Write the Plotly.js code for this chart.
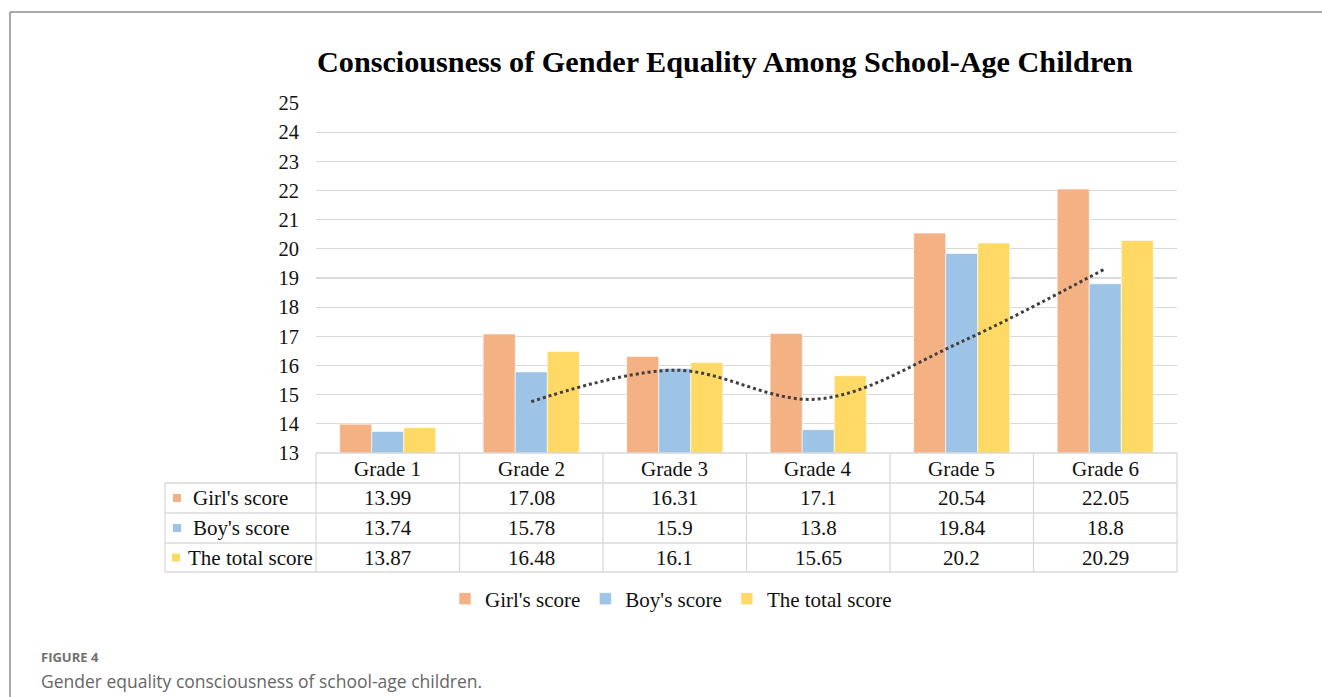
<!DOCTYPE html>
<html>
<head>
<meta charset="utf-8">
<script src="https://cdn.plot.ly/plotly-3.0.1.min.js"></script>
<style>html,body{margin:0;padding:0;background:#fff;}#chart{width:1322px;height:697px;}</style>
</head>
<body>
<div id="chart"></div>
<script>
const grades = ["Grade 1", "Grade 2", "Grade 3", "Grade 4", "Grade 5", "Grade 6"];
const girlScore = [13.99, 17.08, 16.31, 17.1, 20.54, 22.05];
const boyScore = [13.74, 15.78, 15.9, 13.8, 19.84, 18.8];
const totalScore = [13.87, 16.48, 16.1, 15.65, 20.2, 20.29];
const trendGrades = ["Grade 2", "Grade 3", "Grade 4", "Grade 5", "Grade 6"];
const trendValues = [14.76, 15.84, 14.85, 16.82, 19.32];
const seriesNames = ["Girl's score", "Boy's score", "The total score"];
const yTicks = [13, 14, 15, 16, 17, 18, 19, 20, 21, 22, 23, 24, 25];

const colors = ["#F4B183", "#9DC3E6", "#FFD966"];
const serif = "'Liberation Serif', 'Times New Roman', serif";
const fs = 21;

// plot area pixels
const L = 316, R = 1177, T = 103, B = 453;
const px = x => (x - L) / (R - L);
const py = y => (B - y) / (B - T);

const seriesValues = [girlScore, boyScore, totalScore];
const traces = seriesValues.map((vals, i) => ({
  type: "bar", x: grades, y: vals, name: seriesNames[i],
  marker: {color: colors[i], line: {color: "#ffffff", width: 0.6}},
  hoverinfo: "skip"
}));
traces.push({
  type: "scatter", mode: "lines", x: trendGrades, y: trendValues,
  line: {color: "#404040", width: 3, dash: "dot", shape: "spline", smoothing: 1},
  showlegend: false, hoverinfo: "skip"
});

const gridC = "#d9d9d9";
const shapes = [];
const line = (x0, y0, x1, y1, color, w) => shapes.push({type: "line", xref: "paper", yref: "paper",
  x0: px(x0), y0: py(y0), x1: px(x1), y1: py(y1), line: {color: color, width: w}});

// frame
line(10, 12, 1322, 12, "#8c8c8c", 1.5);
line(10, 12, 10, 697, "#8c8c8c", 1.5);

// table
const rowY = [453, 483, 513, 543, 572];
const colX = [316, 459.5, 603, 746.5, 890, 1033.5, 1177];
line(316, 453, 1177, 453, gridC, 1.3);
for (let r = 1; r < rowY.length; r++) line(165, rowY[r], 1177, rowY[r], gridC, 1.3);
colX.forEach(x => line(x, 453, x, 572, gridC, 1.3));
line(165, 483, 165, 572, gridC, 1.3);

// row markers
const markerX = [177, 177, 176];
const labelX = [191, 191, 186];
const annotations = [];
seriesNames.forEach((n, i) => {
  const cy = (rowY[i + 1] + rowY[i + 2]) / 2;
  shapes.push({type: "rect", xref: "paper", yref: "paper",
    x0: px(markerX[i] - 4), x1: px(markerX[i] + 4), y0: py(cy - 4), y1: py(cy + 4),
    fillcolor: colors[i], line: {width: 0}});
  annotations.push({xref: "paper", yref: "paper", x: px(labelX[i]), y: py(cy), xanchor: "left", yanchor: "middle",
    text: n, showarrow: false, font: {family: serif, size: fs, color: "#111"}});
  seriesValues[i].forEach((v, j) => annotations.push({xref: "x", yref: "paper", x: grades[j], y: py(cy),
    xanchor: "center", yanchor: "middle", text: String(v), showarrow: false,
    font: {family: serif, size: fs, color: "#111"}}));
});
grades.forEach(g => annotations.push({xref: "x", yref: "paper", x: g, y: py(468.5),
  xanchor: "center", yanchor: "middle", text: g, showarrow: false,
  font: {family: serif, size: fs, color: "#111"}}));

// title
annotations.push({xref: "paper", yref: "paper", x: px(725), y: py(62), xanchor: "center", yanchor: "middle",
  text: "<b>Consciousness of Gender Equality Among School-Age Children</b>", showarrow: false,
  font: {family: serif, size: 30.2, color: "#000"}});

// caption
annotations.push({xref: "paper", yref: "paper", x: px(39), y: py(657), xanchor: "left", yanchor: "middle",
  text: "<b>FIGURE 4</b>", showarrow: false, font: {family: "'Open Sans', Lato, sans-serif", size: 13, color: "#707070"}});
annotations.push({xref: "paper", yref: "paper", x: px(39), y: py(681), xanchor: "left", yanchor: "middle",
  text: "Gender equality consciousness of school-age children.", showarrow: false,
  font: {family: "'Open Sans', Lato, sans-serif", size: 17.5, color: "#666666"}});

const layout = {
  width: 1322, height: 697,
  margin: {l: L, r: 1322 - R, t: T, b: 697 - B, pad: 0},
  paper_bgcolor: "#fff", plot_bgcolor: "#fff",
  barmode: "group", bargap: 0.33, bargroupgap: 0,
  showlegend: true,
  legend: {orientation: "h", x: px(445), xanchor: "left", y: py(599), yanchor: "middle",
    font: {family: serif, size: fs, color: "#111"}, bgcolor: "rgba(0,0,0,0)"},
  xaxis: {type: "category", showticklabels: false, showgrid: false, zeroline: false, showline: false, ticks: ""},
  yaxis: {range: [13, 25], tickvals: yTicks, ticktext: yTicks.map(String), showgrid: true, gridcolor: gridC, gridwidth: 1.3,
    zeroline: false, showline: false, ticks: "", ticklabelstandoff: 16,
    tickfont: {family: serif, size: 20.5, color: "#111"}},
  shapes: shapes,
  annotations: annotations
};

Plotly.newPlot("chart", traces, layout, {staticPlot: true, displayModeBar: false});
</script>
</body>
</html>
